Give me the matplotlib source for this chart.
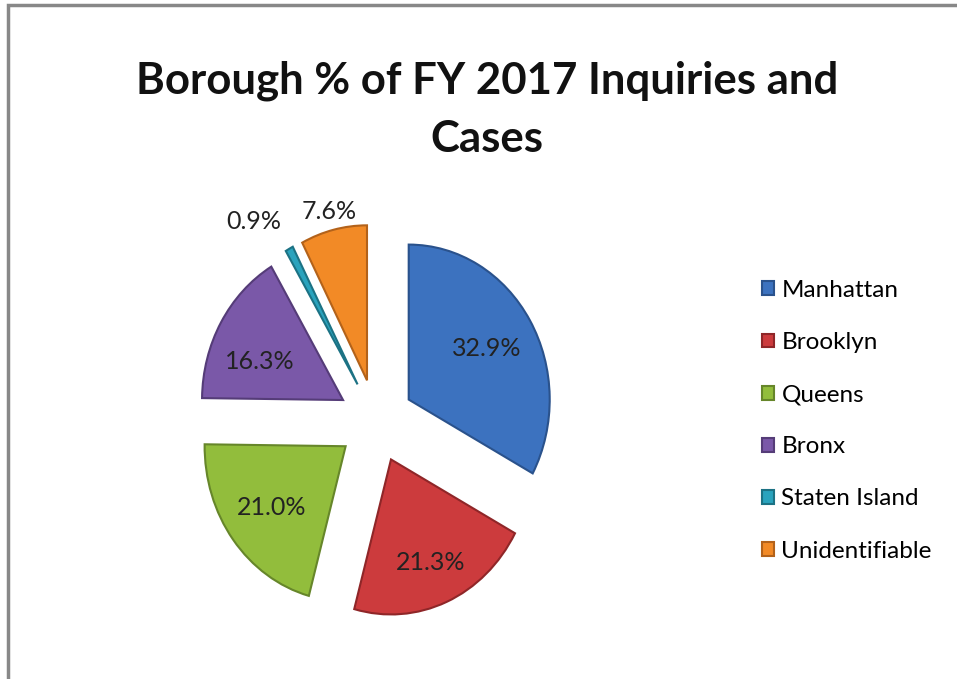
import numpy as np
import matplotlib
matplotlib.use('Agg')
import matplotlib.pyplot as plt
from matplotlib.patches import Rectangle

plt.rcParams['font.family'] = ['Lato', 'DejaVu Sans']

boroughs = ['Manhattan', 'Brooklyn', 'Queens', 'Bronx', 'Staten Island', 'Unidentifiable']
shares = [32.9, 21.3, 21.0, 16.3, 0.9, 7.6]
colors = ['#3c72bf', '#cc3b3d', '#92bd3c', '#7a58a8', '#2aa3bd', '#f28a26']
edges = ['#2a528c', '#8f2628', '#66862a', '#553c78', '#1c7284', '#b3621a']
label_dist = [0.64, 0.72, 0.66, 0.64, 1.28, 1.12]
label_turn = [0, 0, 0, 5, 5, 0]
explode = [0.27] * 6

fig = plt.figure(figsize=(9.57, 6.79), dpi=100)
W, H = 957, 679
# pie centre and radii in pixels (reference pie is slightly squashed)
cx, cy, rx, ry, half = 376, 421, 141, 155, 200
ax = fig.add_axes([(cx - half) / W, (H - cy - half) / H, 2 * half / W, 2 * half / H])

wedges, _ = ax.pie(shares, colors=colors, startangle=90, counterclock=False,
                   explode=explode, radius=1,
                   wedgeprops=dict(linewidth=1.5))
for w, ec in zip(wedges, edges):
    w.set_edgecolor(ec)

ax.set_aspect('auto')
ax.set_xlim(-half / rx, half / rx)
ax.set_ylim(-half / ry, half / ry)
ax.axis('off')

for w, v, d, t, ex in zip(wedges, shares, label_dist, label_turn, explode):
    mid = np.deg2rad((w.theta1 + w.theta2) / 2 + t)
    r = ex + d
    ax.text(r * np.cos(mid), r * np.sin(mid), '%.1f%%' % v,
            ha='center', va='center', fontsize=18, color='#222222')

fig.text(487 / W, 1 - 110 / H, 'Borough % of FY 2017 Inquiries and\nCases',
         ha='center', va='center', fontsize=31.5, fontweight='bold',
         linespacing=1.55, color='#111111')

fig.legend(wedges, boroughs, loc='upper left', bbox_to_anchor=(762 / W, 1 - 280 / H),
           frameon=False, fontsize=17.5, handlelength=0.5, handleheight=0.5,
           handletextpad=0.3, labelspacing=1.28, borderaxespad=0, borderpad=0)

fig.add_artist(Rectangle((8 / W, -0.1), 1.2, 1 - 5 / H + 0.1, transform=fig.transFigure,
                         fill=False, edgecolor='#888888', linewidth=2.5))

fig.savefig('out.png', dpi=100)
